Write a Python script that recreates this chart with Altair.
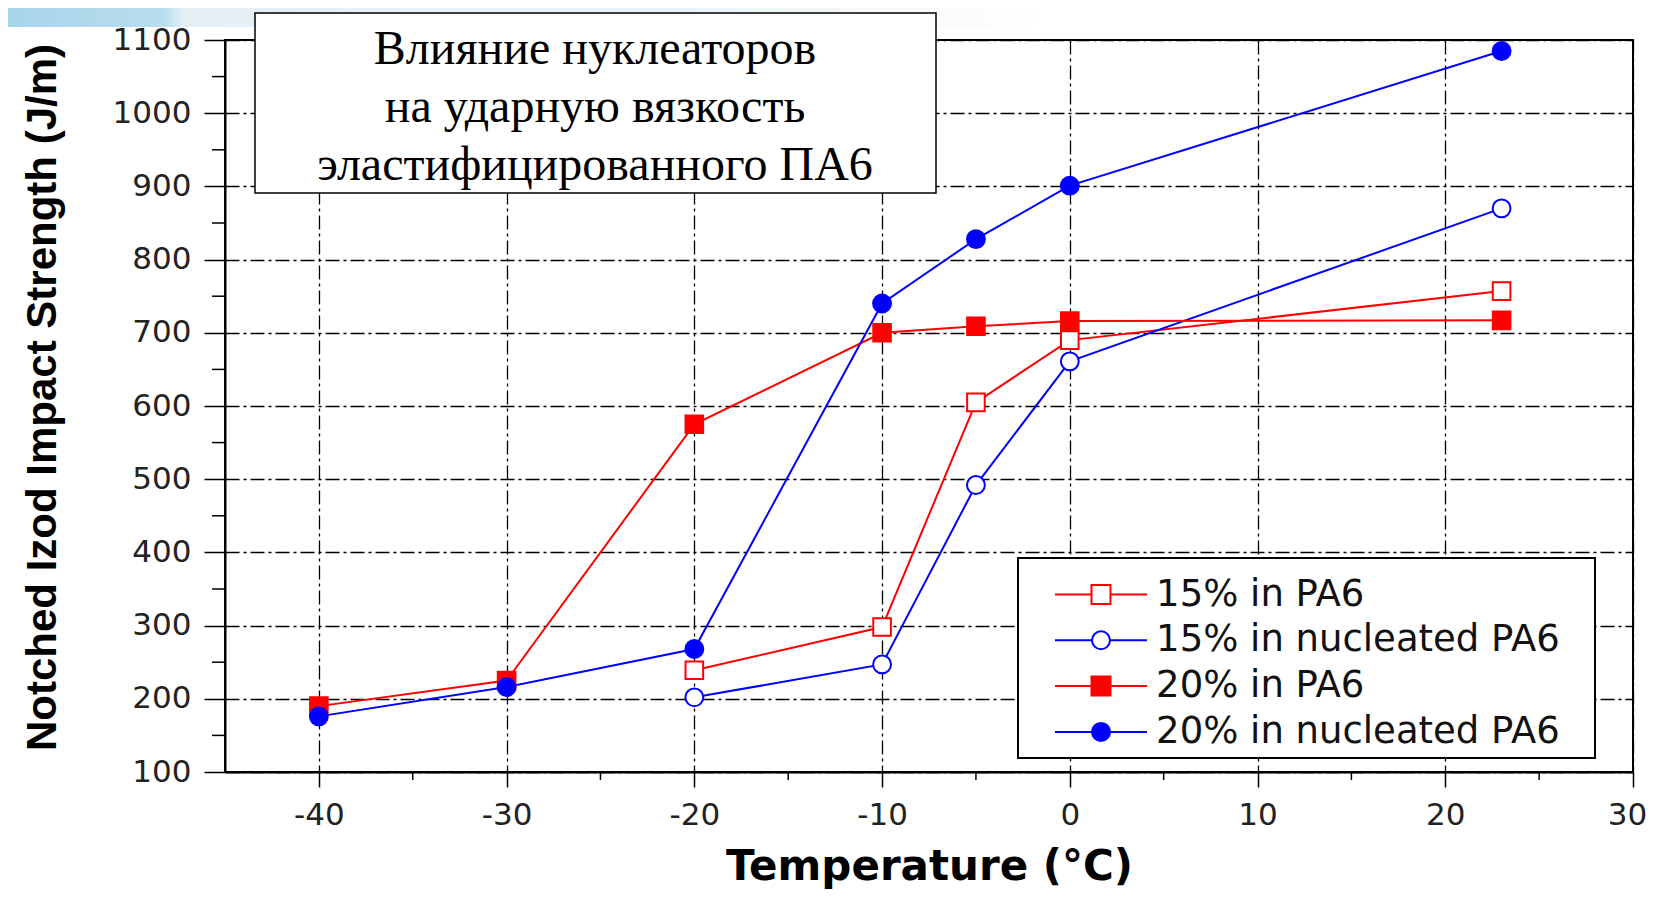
import altair as alt
import pandas as pd

# ---- data ----
series_names = ["15% in PA6", "15% in nucleated PA6", "20% in PA6", "20% in nucleated PA6"]

temp_15_pa6 = [-20, -10, -5, 0, 23]
imp_15_pa6 = [239, 298, 605, 690, 757]

temp_15_nuc = [-20, -10, -5, 0, 23]
imp_15_nuc = [202, 247, 492, 661, 870]

temp_20_pa6 = [-40, -30, -20, -10, -5, 0, 23]
imp_20_pa6 = [190, 225, 575, 700, 709, 716, 717]

temp_20_nuc = [-40, -30, -20, -10, -5, 0, 23]
imp_20_nuc = [176, 216, 268, 740, 828, 901, 1085]

x_major = [-40, -30, -20, -10, 0, 10, 20, 30]
x_minor = [-35, -25, -15, -5, 5, 15, 25]
y_major = [100, 200, 300, 400, 500, 600, 700, 800, 900, 1000, 1100]
y_minor = [150, 250, 350, 450, 550, 650, 750, 850, 950, 1050]

title_lines = ["Влияние нуклеаторов", "на ударную вязкость", "эластифицированного ПА6"]
x_title = "Temperature (°C)"
y_title = "Notched Izod Impact Strength (J/m)"

# ---- build table ----
rows = []
for name, ts, vs in zip(series_names,
                        [temp_15_pa6, temp_15_nuc, temp_20_pa6, temp_20_nuc],
                        [imp_15_pa6, imp_15_nuc, imp_20_pa6, imp_20_nuc]):
    for t, v in zip(ts, vs):
        rows.append({"series": name, "temp": t, "impact": v})
df = pd.DataFrame(rows)

W, H = 1408, 732

x_scale = alt.Scale(domain=[-45, 30], nice=False, zero=False)
y_scale = alt.Scale(domain=[100, 1100], nice=False, zero=False)

stroke_scale = alt.Scale(domain=series_names, range=["#ff0000", "#0000ff", "#ff0000", "#0000ff"])
fill_scale = alt.Scale(domain=series_names, range=["#ffffff", "#ffffff", "#ff0000", "#0000ff"])

sq_path = "M-4.6,0H-0.95M0.95,0H4.6M-0.95,-0.95H0.95V0.95H-0.95Z"
ci_path = "M-4.6,0H-0.9M0.9,0H4.6M-0.9,0A0.9,0.9,0,1,0,0.9,0A0.9,0.9,0,1,0,-0.9,0Z"
shape_scale = alt.Scale(domain=series_names, range=[sq_path, ci_path, sq_path, ci_path])

grid_dash = [14, 4, 3, 4]

x_axis = alt.Axis(
    values=x_major, title=x_title, grid=True, gridColor="#000000", gridDash=grid_dash,
    gridWidth=1.3, gridOpacity=1, tickSize=15, tickWidth=1.5, tickColor="#000000",
    domainColor="#000000", domainWidth=2, labelFont="DejaVu Sans", labelFontSize=31,
    labelColor="#222222", labelPadding=13, labelFlush=False,
    labelOffset={"condition": {"test": "datum.value === 30", "value": -6}, "value": 0},
    labelExpr="datum.value + ''",
    titleFont="DejaVu Sans", titleFontWeight="bold", titleFontSize=42, titleColor="#000000",
    titleY=107, titleBaseline="alphabetic",
)
y_axis = alt.Axis(
    values=y_major, title=y_title, grid=True, gridColor="#000000", gridDash=grid_dash,
    gridWidth=1.3, gridOpacity=1, tickSize=21, tickWidth=1.5, tickColor="#000000",
    domainColor="#000000", domainWidth=2, labelFont="DejaVu Sans", labelFontSize=31,
    labelColor="#222222", labelPadding=13, labelFlush=False,
    labelExpr="datum.value + ''",
    titleFont="Liberation Sans", titleFontWeight="bold", titleFontSize=42, titleColor="#000000",
    titleAngle=270, titleX=-161, titleY=357, titleBaseline="bottom",
)

legend = alt.Legend(
    title="\u00a0", titleFontSize=6, titlePadding=4,
    orient="none", legendX=793, legendY=518, direction="vertical",
    fillColor="#ffffff", padding=8,
    symbolSize=400, symbolStrokeWidth=2, symbolOffset=56.5, labelOffset=36.6,
    labelFont="DejaVu Sans", labelFontSize=37, labelColor="#111111", rowPadding=7.8,
    labelLimit=700,
    labelExpr="datum.label + '\u2800'", symbolOpacity=1,
)

X = alt.X("temp:Q", scale=x_scale, axis=x_axis)
Y = alt.Y("impact:Q", scale=y_scale, axis=y_axis)
FILL = alt.Fill("series:N", scale=fill_scale, legend=legend)
STROKE = alt.Stroke("series:N", scale=stroke_scale, legend=legend)

base = alt.Chart(df)

lines = base.mark_line(strokeWidth=2).encode(x=X, y=Y, stroke=STROKE, detail="series:N")

squares = base.mark_point(shape="square", size=310, opacity=1, strokeWidth=2).encode(
    x=X, y=Y, fill=FILL, stroke=STROKE,
).transform_filter("indexof(datum.series, 'nucleated') < 0")

circles = base.mark_point(shape="circle", size=320, opacity=1, strokeWidth=2).encode(
    x=X, y=Y, fill=FILL, stroke=STROKE,
).transform_filter("indexof(datum.series, 'nucleated') >= 0")

legend_layer = base.mark_point(opacity=1, strokeWidth=2).encode(
    fill=FILL, stroke=STROKE,
    shape=alt.Shape("series:N", scale=shape_scale, legend=legend),
).transform_filter("false")

minor_x_df = pd.DataFrame({"temp": x_minor})
minor_y_df = pd.DataFrame({"impact": y_minor})

minor_x_ticks = alt.Chart(minor_x_df).mark_rule(color="#000000", strokeWidth=1.5).encode(
    x=X, y=alt.value(H), y2=alt.value(H + 8)
)
minor_y_ticks = alt.Chart(minor_y_df).mark_rule(color="#000000", strokeWidth=1.5).encode(
    y=Y, x=alt.value(-13), x2=alt.value(0)
)

one = pd.DataFrame({"k": [0]})

banner = alt.Chart(one).mark_rect(
    fill=alt.LinearGradient(
        gradient="linear", x1=0, x2=1, y1=0, y2=0,
        stops=[
            alt.GradientStop(color="#a8d5ea", offset=0),
            alt.GradientStop(color="#b9dded", offset=0.15),
            alt.GradientStop(color="#e4eff4", offset=0.17),
            alt.GradientStop(color="#eef4f7", offset=0.7),
            alt.GradientStop(color="#ffffff", offset=1),
        ],
    )
).encode(x=alt.value(-217), x2=alt.value(820), y=alt.value(-32), y2=alt.value(-13))

title_box = alt.Chart(one).mark_rect(fill="#ffffff", stroke="#000000", strokeWidth=1.5).encode(
    x=alt.value(30), x2=alt.value(711), y=alt.value(-27), y2=alt.value(153)
)

title_text = alt.Chart(one).mark_text(
    font="Liberation Serif", fontSize=48, lineHeight=58, align="center",
    baseline="alphabetic", color="#000000",
).encode(x=alt.value(370), y=alt.value(24), text=alt.value(title_lines))

chart = alt.layer(
    lines, squares, circles, legend_layer, minor_x_ticks, minor_y_ticks,
    banner, title_box, title_text,
).properties(
    width=W, height=H,
    autosize=alt.AutoSizeParams(type="none"),
    padding={"left": 217, "top": 32, "right": 16, "bottom": 117},
    background="#ffffff",
).configure_view(
    stroke="#000000", strokeWidth=2
).configure_legend(
    strokeColor="#000000", strokeWidth=2
)

chart.save("out.html", embed_options={"renderer": "svg", "actions": False})
